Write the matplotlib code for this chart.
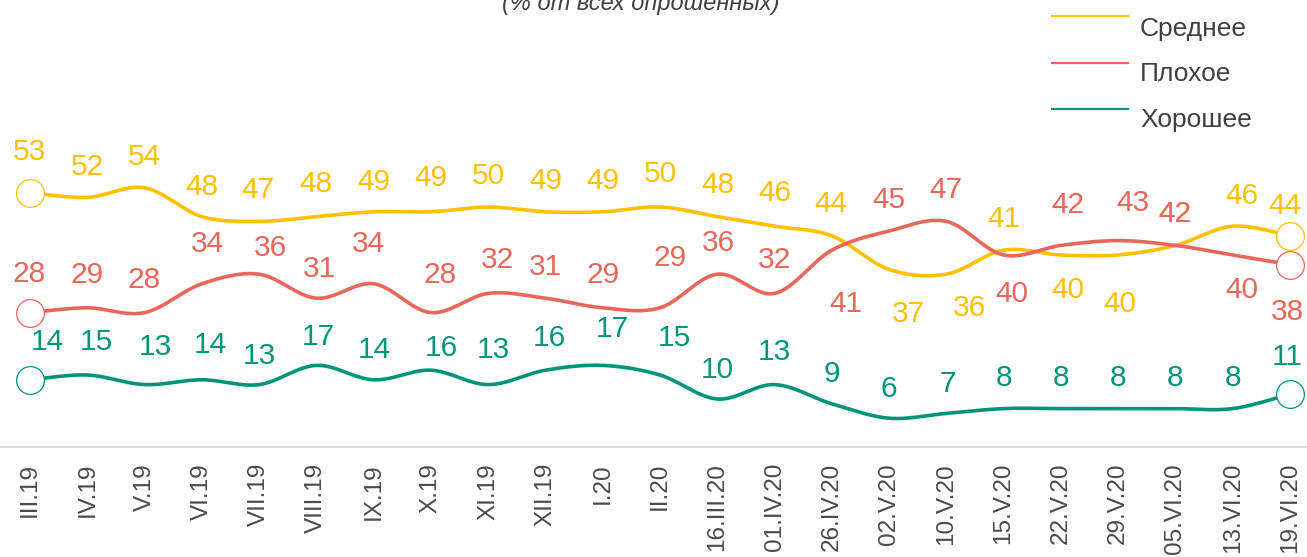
import numpy as np
import matplotlib
matplotlib.use("Agg")
import matplotlib.pyplot as plt
from matplotlib.lines import Line2D

# ---------------- data ----------------
periods = ["III.19", "IV.19", "V.19", "VI.19", "VII.19", "VIII.19", "IX.19", "X.19",
           "XI.19", "XII.19", "I.20", "II.20", "16.III.20", "01.IV.20", "26.IV.20",
           "02.V.20", "10.V.20", "15.V.20", "22.V.20", "29.V.20", "05.VI.20",
           "13.VI.20", "19.VI.20"]
avg_values = [53, 52, 54, 48, 47, 48, 49, 49, 50, 49, 49, 50, 48, 46, 44, 37, 36, 41, 40, 40, 42, 46, 44]
bad_values = [28, 29, 28, 34, 36, 31, 34, 28, 32, 31, 29, 29, 36, 32, 41, 45, 47, 40, 42, 43, 42, 40, 38]
good_values = [14, 15, 13, 14, 13, 17, 14, 16, 13, 16, 17, 15, 10, 13, 9, 6, 7, 8, 8, 8, 8, 8, 11]
series_names = ["Среднее", "Плохое", "Хорошее"]
title_text = "(% от всех опрошенных)"

# ---------------- label placement (pixels, relative to the point; + = right / down) ----------------
avg_dx = [-1, 0, 0, 0, -1, 0, 0, 0, 0, 0, 0, 0, 1, 0, -1, 19, 23, 0, 7, 2, 0, 9, -5]
avg_dy = [-43, -33, -33, -32, -34, -35, -32, -36, -34, -33, -33, -35, -34, -36, -34, 42, 31, -34, 32, 47, -34, -33, -32]
bad_dx = [-1, 0, 0, 6, 11, 3, -5, 9, 9, 0, 0, 10, 1, 0, 14, 0, 0, 8, 7, 15, 0, 9, -3]
bad_dy = [-41, -35, -35, -42, -29, -32, -42, -40, -36, -34, -35, -52, -34, -36, 51, -34, -34, 37, -43, -40, -34, 32, 45]
good_dx = [17, 9, 11, 9, 0, 2, 1, 10, 5, 4, 10, 14, 0, 0, 0, 0, 1, 0, 0, 0, 0, 0, -3]
good_dy = [-40, -35, -40, -37, -31, -31, -32, -25, -37, -35, -39, -39, -32, -35, -32, -32, -32, -33, -33, -33, -33, -33, -40]

colors = ["#FFC000", "#E9665A", "#00957A"]
text_gray = "#404040"
tick_gray = "#4A4A4A"

W, H = 1307, 557
fig = plt.figure(figsize=(W / 100, H / 100), dpi=100)

# axes: value 0 at y=447px, 4.8 px per unit; first point at x=30px, step 57.27px
ax_bottom_px = 447
ax = fig.add_axes([0, (H - ax_bottom_px) / H, 1, ax_bottom_px / H])
step = 57.27
ax.set_xlim(-30 / step, (W - 30) / step)
ax.set_ylim(0, ax_bottom_px / 4.8)

x = np.arange(len(periods))


def smooth(xs, ys, n=40):
    P = np.column_stack([xs, ys]).astype(float)
    Pe = np.vstack([P[0], P, P[-1]])
    out = []
    for i in range(len(P) - 1):
        p0, p1, p2, p3 = Pe[i], Pe[i + 1], Pe[i + 2], Pe[i + 3]
        c1 = p1 + (p2 - p0) / 6
        c2 = p2 - (p3 - p1) / 6
        t = np.linspace(0, 1, n, endpoint=(i == len(P) - 2))[:, None]
        pts = (1 - t) ** 3 * p1 + 3 * (1 - t) ** 2 * t * c1 + 3 * (1 - t) * t ** 2 * c2 + t ** 3 * p2
        out.append(pts)
    return np.vstack(out)


series = [avg_values, bad_values, good_values]
dxs = [avg_dx, bad_dx, good_dx]
dys = [avg_dy, bad_dy, good_dy]
digit_h = 21
label_font = dict(family="Liberation Sans", size=21.5)

for k, (vals, col) in enumerate(zip(series, colors)):
    c = smooth(x, vals)
    ax.plot(c[:, 0], c[:, 1], color=col, lw=2.6, solid_capstyle="round", zorder=2 + k * 0.1)
    ax.plot([x[0], x[-1]], [vals[0], vals[-1]], linestyle="none", marker="o", ms=20,
            mfc="white", mec=col, mew=0.9, zorder=5, clip_on=False)
    for i, v in enumerate(vals):
        ax.annotate(str(v), (x[i], v),
                    xytext=(dxs[k][i] * 0.72, -(dys[k][i] + digit_h / 2) * 0.72),
                    textcoords="offset points", ha="center", va="baseline",
                    color=col, annotation_clip=False, zorder=6 + k, **label_font)

for s in ["top", "left", "right"]:
    ax.spines[s].set_visible(False)
ax.spines["bottom"].set_color("#D9D9D9")
ax.spines["bottom"].set_linewidth(1.5)
ax.set_yticks([])
ax.set_xticks(x)
ax.set_xticklabels(periods, rotation=90, family="Liberation Sans", fontsize=17.5, color=tick_gray)
ax.tick_params(axis="x", length=0, pad=11.5)
ax.patch.set_visible(False)

# title (cut off at the top as in the reference)
fig.text(641 / W, 1 - 10 / H, title_text, ha="center", va="baseline", style="italic",
         family="Liberation Sans", fontsize=17, color=text_gray)

# legend
leg_line_y = [15.7, 62.7, 109]
leg_text_base = [36, 81, 127.5]
for name, col, ly, ty in zip(series_names, colors, leg_line_y, leg_text_base):
    fig.add_artist(Line2D([1052 / W, 1128 / W], [1 - ly / H, 1 - ly / H], color=col, lw=1.6,
                          transform=fig.transFigure))
    fig.text(1140 / W, 1 - ty / H, name, ha="left", va="baseline", family="Liberation Sans",
             fontsize=19, color=text_gray)

fig.savefig("out.png", dpi=100)
